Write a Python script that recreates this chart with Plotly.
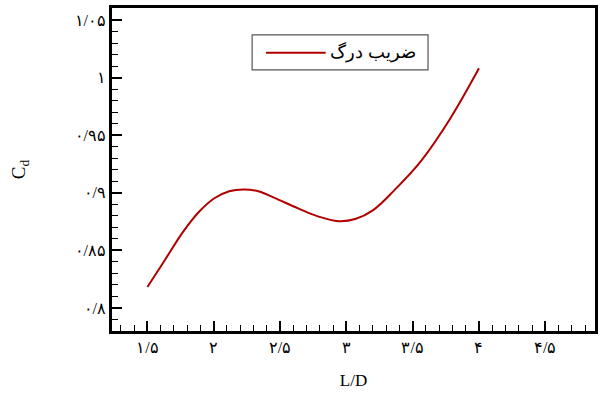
import plotly.graph_objects as go

# Data
ld = [1.5, 1.631, 1.766, 1.893, 2.005, 2.117, 2.229, 2.342, 2.454, 2.641, 2.791, 2.941, 3.067, 3.202, 3.359, 3.561, 3.785, 4.0]
cd = [0.8182, 0.8415, 0.8657, 0.8840, 0.8953, 0.9014, 0.9029, 0.9012, 0.8958, 0.8863, 0.8793, 0.8754, 0.8772, 0.8850, 0.9019, 0.9273, 0.9648, 1.0081]

x_tickvals = [1.5, 2, 2.5, 3, 3.5, 4, 4.5]
x_ticktext = ["۱/۵", "۲", "۲/۵", "۳", "۳/۵", "۴", "۴/۵"]
y_tickvals = [0.8, 0.85, 0.9, 0.95, 1.0, 1.05]
y_ticktext = ["۰/۸", "۰/۸۵", "۰/۹", "۰/۹۵", "۱", "۱/۰۵"]
legend_label = "ضریب درگ"

line_color = "#B00000"
font_fam = "Liberation Serif, DejaVu Serif, serif"

fig = go.Figure()
fig.add_trace(go.Scatter(x=ld, y=cd, mode="lines", line=dict(color=line_color, width=2, shape="spline", smoothing=1.0),
                         showlegend=False, name=legend_label))

axis_common = dict(showgrid=False, zeroline=False, showline=True, linecolor="black", linewidth=2.5,
                   mirror=True, ticks="inside", ticklen=10, tickwidth=2, tickcolor="black",
                   tickfont=dict(family=font_fam, size=16, color="black"))

fig.update_xaxes(range=[1.233, 4.875], tickmode="array", tickvals=x_tickvals, ticktext=x_ticktext,
                 minor=dict(tickmode="linear", tick0=0, dtick=0.1, ticks="inside", ticklen=6, tickwidth=1.2, tickcolor="black"),
                 title=dict(text="L/D", font=dict(family=font_fam, size=17, color="black"), standoff=20),
                 **axis_common)
fig.update_yaxes(range=[0.78, 1.0605], tickmode="array", tickvals=y_tickvals, ticktext=y_ticktext,
                 minor=dict(tickmode="linear", tick0=0, dtick=0.01, ticks="inside", ticklen=6, tickwidth=1.2, tickcolor="black"),
                 title=dict(text="C<sub>d</sub>", font=dict(family=font_fam, size=19, color="black"), standoff=44),
                 **axis_common)

# Custom legend box
fig.add_shape(type="rect", xref="paper", yref="paper", x0=(253-112)/486, x1=(430-112)/486,
              y0=(331-69)/324, y1=(331-34)/324, line=dict(color="#555555", width=1.2), fillcolor="white")
fig.add_shape(type="line", xref="paper", yref="paper", x0=(267-112)/486, x1=(327-112)/486,
              y0=(331-52)/324, y1=(331-52)/324, line=dict(color=line_color, width=2))
fig.add_annotation(xref="paper", yref="paper", x=(420-112)/486, y=(331-51)/324, xanchor="right", yanchor="middle",
                   text=legend_label, showarrow=False, font=dict(family=font_fam, size=18, color="black"))

fig.update_layout(width=603, height=394, margin=dict(l=112, r=5, t=7, b=63),
                  paper_bgcolor="white", plot_bgcolor="white", showlegend=False)

fig.write_html("out.html")
